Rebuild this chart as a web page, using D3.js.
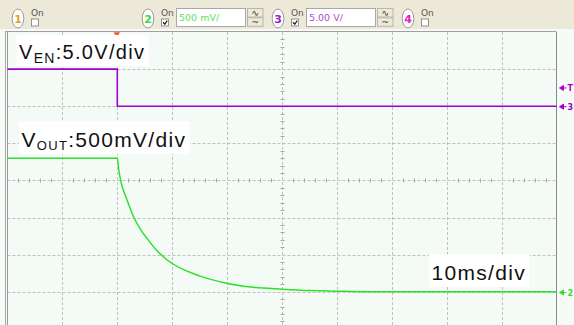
<!DOCTYPE html>
<html>
<head>
<meta charset="utf-8">
<script src="https://cdn.jsdelivr.net/npm/d3@7/dist/d3.min.js"></script>
<style>
  html, body { margin: 0; padding: 0; background: #ffffff; }
  svg { display: block; }
</style>
</head>
<body>
<svg id="scope" width="574" height="325"></svg>
<script>
// ---- channel toolbar ----
const channelIds    = [1, 2, 3, 4];
const channelColors = ["#e0a030", "#33dd33", "#a020c8", "#e020c0"];
const channelOn     = [false, true, true, false];
const channelScale  = ["", "500 mV/", "5.00 V/", ""];

// ---- time base: 10 ms/div, trigger at t = 0 ----
const timeDomainMs = [-20, 80];
const timeGridMs   = [-10, 0, 10, 20, 30, 40, 50, 60, 70];
const divGrid      = [-3, -2, -1, 1, 2, 3];   // horizontal graticule lines (divisions)

// ---- CH3: enable signal V_EN (5 V/div, ground at +2 div) ----
const enTimeMs = [-20, 0, 0, 80];
const enVolts  = [5, 5, 0, 0];

// ---- CH2: output voltage V_OUT (500 mV/div, ground at -3 div) ----
const outTimeMs = [-20, 0, 0.27, 0.67, 1.76, 3.09, 4.49, 5.4, 6.9, 9.04, 15.1, 19.9, 24.8, 30, 35.1, 39.9, 45, 80];
const outVolts  = [1.8, 1.8, 1.64, 1.48, 1.24, 0.99, 0.81, 0.72, 0.58, 0.43, 0.21, 0.115, 0.06, 0.034, 0.015, 0.007, 0, 0];

// annotation texts
const enLabel   = { main: "V", sub: "EN", rest: ":5.0V/div" };
const outLabel  = { main: "V", sub: "OUT", rest: ":500mV/div" };
const timeLabel = "10ms/div";

const svg = d3.select("#scope");
const W = 574, H = 325;

// screen geometry
const gx0 = 7.5, gx1 = 556.5;       // graticule left / right
const gyTop = 32, divPx = 37.1;     // graticule top, pixels per division
const gyCenter = gyTop + 4 * divPx;

const x = d3.scaleLinear().domain(timeDomainMs).range([gx0, gx1]);
const yDiv = d3.scaleLinear().domain([-4, 4]).range([gyCenter + 4 * divPx, gyTop]);
const ch2 = v => yDiv(v / 0.5 - 3);
const ch3 = v => yDiv(v / 5 + 2);

// backgrounds
svg.append("rect").attr("width", W).attr("height", H).attr("fill", "#f7fbf8");
svg.append("rect").attr("x", gx0).attr("y", gyTop).attr("width", gx1 - gx0).attr("height", H - gyTop)
  .attr("fill", "#f4faf6");

// toolbar
svg.append("rect").attr("width", W).attr("height", 29).attr("fill", "#ece9d8");
svg.append("line").attr("x1", 0).attr("x2", W).attr("y1", 29.5).attr("y2", 29.5).attr("stroke", "#f8f8f4");

const tb = svg.append("g").attr("font-family", "Tahoma, 'DejaVu Sans', sans-serif");
channelIds.forEach((id, i) => {
  const cx = 18 + i * 130;
  const g = tb.append("g");
  g.append("ellipse").attr("cx", cx).attr("cy", 18.5).attr("rx", 5.8).attr("ry", 9.5)
    .attr("fill", "#ffffff").attr("stroke", "#9a9a9a").attr("stroke-width", 1);
  g.append("text").attr("x", cx).attr("y", 22.5).attr("text-anchor", "middle")
    .attr("font-size", 11).attr("font-weight", "bold").attr("fill", channelColors[i]).text(id);
  g.append("text").attr("x", cx + 13).attr("y", 15.5).attr("font-size", 9).attr("fill", "#555").text("On");
  g.append("rect").attr("x", cx + 13.5).attr("y", 19).attr("width", 7).attr("height", 7)
    .attr("fill", "#ffffff").attr("stroke", "#7a7a7a").attr("stroke-width", 0.8);
  if (channelOn[i]) {
    g.append("path").attr("d", `M${cx + 15},${22.3} L${cx + 16.8},${24.3} L${cx + 19.2},${20.6}`)
      .attr("fill", "none").attr("stroke", "#222").attr("stroke-width", 1.3);
  }
  if (channelScale[i]) {
    g.append("rect").attr("x", cx + 28.5).attr("y", 8.5).attr("width", 69).attr("height", 18)
      .attr("fill", "#ffffff").attr("stroke", "#a8a8a8");
    g.append("text").attr("x", cx + 31).attr("y", 20.5).attr("font-size", 9.5)
      .attr("fill", channelColors[i]).attr("opacity", 0.8).text(channelScale[i]);
    [0, 1].forEach(k => {
      g.append("rect").attr("x", cx + 99.5).attr("y", 8.5 + k * 9.3).attr("width", 15.5).attr("height", 8.5)
        .attr("fill", "#ece9d8").attr("stroke", "#b8b6a8");
      g.append("text").attr("x", cx + 107.3).attr("y", 15.5 + k * 9.3).attr("text-anchor", "middle")
        .attr("font-size", 9).attr("fill", "#333").text(k === 0 ? "∿" : "~");
    });
  }
});

// outer frame lines
svg.append("line").attr("x1", 5.5).attr("x2", 5.5).attr("y1", 31).attr("y2", H).attr("stroke", "#a8a8a8");
svg.append("line").attr("x1", 5.5).attr("x2", gx1).attr("y1", 31.5).attr("y2", 31.5).attr("stroke", "#a0a0a0");

// graticule
const grid = svg.append("g").attr("stroke", "#c0c0c0").attr("stroke-dasharray", "3,2").attr("stroke-width", 1);
grid.selectAll("line.v").data(timeGridMs).join("line").attr("class", "v")
  .attr("x1", d => Math.round(x(d)) + 0.5).attr("x2", d => Math.round(x(d)) + 0.5)
  .attr("y1", gyTop).attr("y2", H);
grid.selectAll("line.h").data(divGrid.concat([0])).join("line").attr("class", "h")
  .attr("x1", gx0).attr("x2", gx1)
  .attr("y1", d => Math.round(yDiv(d)) + 0.5).attr("y2", d => Math.round(yDiv(d)) + 0.5);

// minor ticks on the centre axes (5 per division)
const minorT = d3.range(timeDomainMs[0] + 2, timeDomainMs[1], 2).filter(t => t % 10 !== 0);
const minorD = d3.range(-3.8, 4, 0.2).map(d => +d.toFixed(1)).filter(d => Math.abs(d - Math.round(d)) > 1e-6);
const ticks = svg.append("g").attr("stroke", "#a8a8a8").attr("stroke-width", 1);
ticks.selectAll("line.tx").data(minorT).join("line").attr("class", "tx")
  .attr("x1", d => Math.round(x(d)) + 0.5).attr("x2", d => Math.round(x(d)) + 0.5)
  .attr("y1", Math.round(gyCenter) - 1.5).attr("y2", Math.round(gyCenter) + 2.5);
ticks.selectAll("line.ty").data(minorD).join("line").attr("class", "ty")
  .attr("x1", Math.round(x(30)) - 1.5).attr("x2", Math.round(x(30)) + 2.5)
  .attr("y1", d => Math.round(yDiv(d)) + 0.5).attr("y2", d => Math.round(yDiv(d)) + 0.5);

// graticule border
svg.append("line").attr("x1", gx0).attr("x2", gx0).attr("y1", gyTop).attr("y2", H).attr("stroke", "#9a9a9a");
svg.append("line").attr("x1", gx1).attr("x2", gx1).attr("y1", gyTop).attr("y2", H).attr("stroke", "#8a8a8a");

// trigger position marker
svg.append("path").attr("d", d3.symbol(d3.symbolTriangle, 18)())
  .attr("transform", `translate(${x(0) - 0.5},${gyTop + 2}) rotate(180)`).attr("fill", "#f06030");

// traces
const lineOf = fy => d3.line().x(d => x(d[0])).y(d => fy(d[1]));
svg.append("path").datum(d3.zip(enTimeMs, enVolts))
  .attr("d", lineOf(ch3)).attr("fill", "none").attr("stroke", "#a000d0").attr("stroke-width", 1.6);
svg.append("path").datum(d3.zip(outTimeMs, outVolts))
  .attr("d", lineOf(ch2).curve(d3.curveMonotoneX)).attr("fill", "none")
  .attr("stroke", "#2fe02f").attr("stroke-width", 1.5);

// right-hand channel / trigger level markers
const mk = svg.append("g").attr("font-family", "Tahoma, 'DejaVu Sans', sans-serif")
  .attr("font-size", 8).attr("font-weight", "bold");
function marker(yv, color, label) {
  mk.append("path").attr("d", `M${gx1 + 3},${yv} l4,-2.5 v5 z M${gx1 + 6},${yv} h4`)
    .attr("fill", color).attr("stroke", color).attr("stroke-width", 1);
  mk.append("text").attr("x", gx1 + 11).attr("y", yv + 3).attr("fill", color).text(label);
}
marker(ch3(2.5) + 0.3, "#b000d0", "T");
marker(ch3(0) + 0.5, "#a000d0", "3");
marker(ch2(0) + 0.8, "#33dd33", "2");

// annotation boxes
const ann = svg.append("g").attr("font-family", "'Liberation Sans', Arial, sans-serif").attr("fill", "#111");
function labelBox(x0, yBase, parts, size, subSize, subDy) {
  const g = ann.append("g");
  const rect = g.append("rect").attr("fill", "#ffffff");
  const t = g.append("text").attr("x", x0).attr("y", yBase).attr("font-size", size).attr("letter-spacing", 1.3);
  if (parts.sub) {
    t.append("tspan").text(parts.main);
    t.append("tspan").attr("font-size", subSize).attr("dy", subDy).text(parts.sub);
    t.append("tspan").attr("dy", -subDy).text(parts.rest);
  } else {
    t.text(parts.main);
  }
  const b = t.node().getBBox();
  rect.attr("x", b.x - 2.5).attr("y", yBase - size * 1.2).attr("width", b.width + 6).attr("height", size * 1.55);
}
labelBox(19, 59, enLabel, 20, 14, 4);
labelBox(21.5, 146.5, outLabel, 21, 13, 3.5);
labelBox(431.5, 279.5, { main: timeLabel }, 21, 0, 0);
</script>
</body>
</html>
